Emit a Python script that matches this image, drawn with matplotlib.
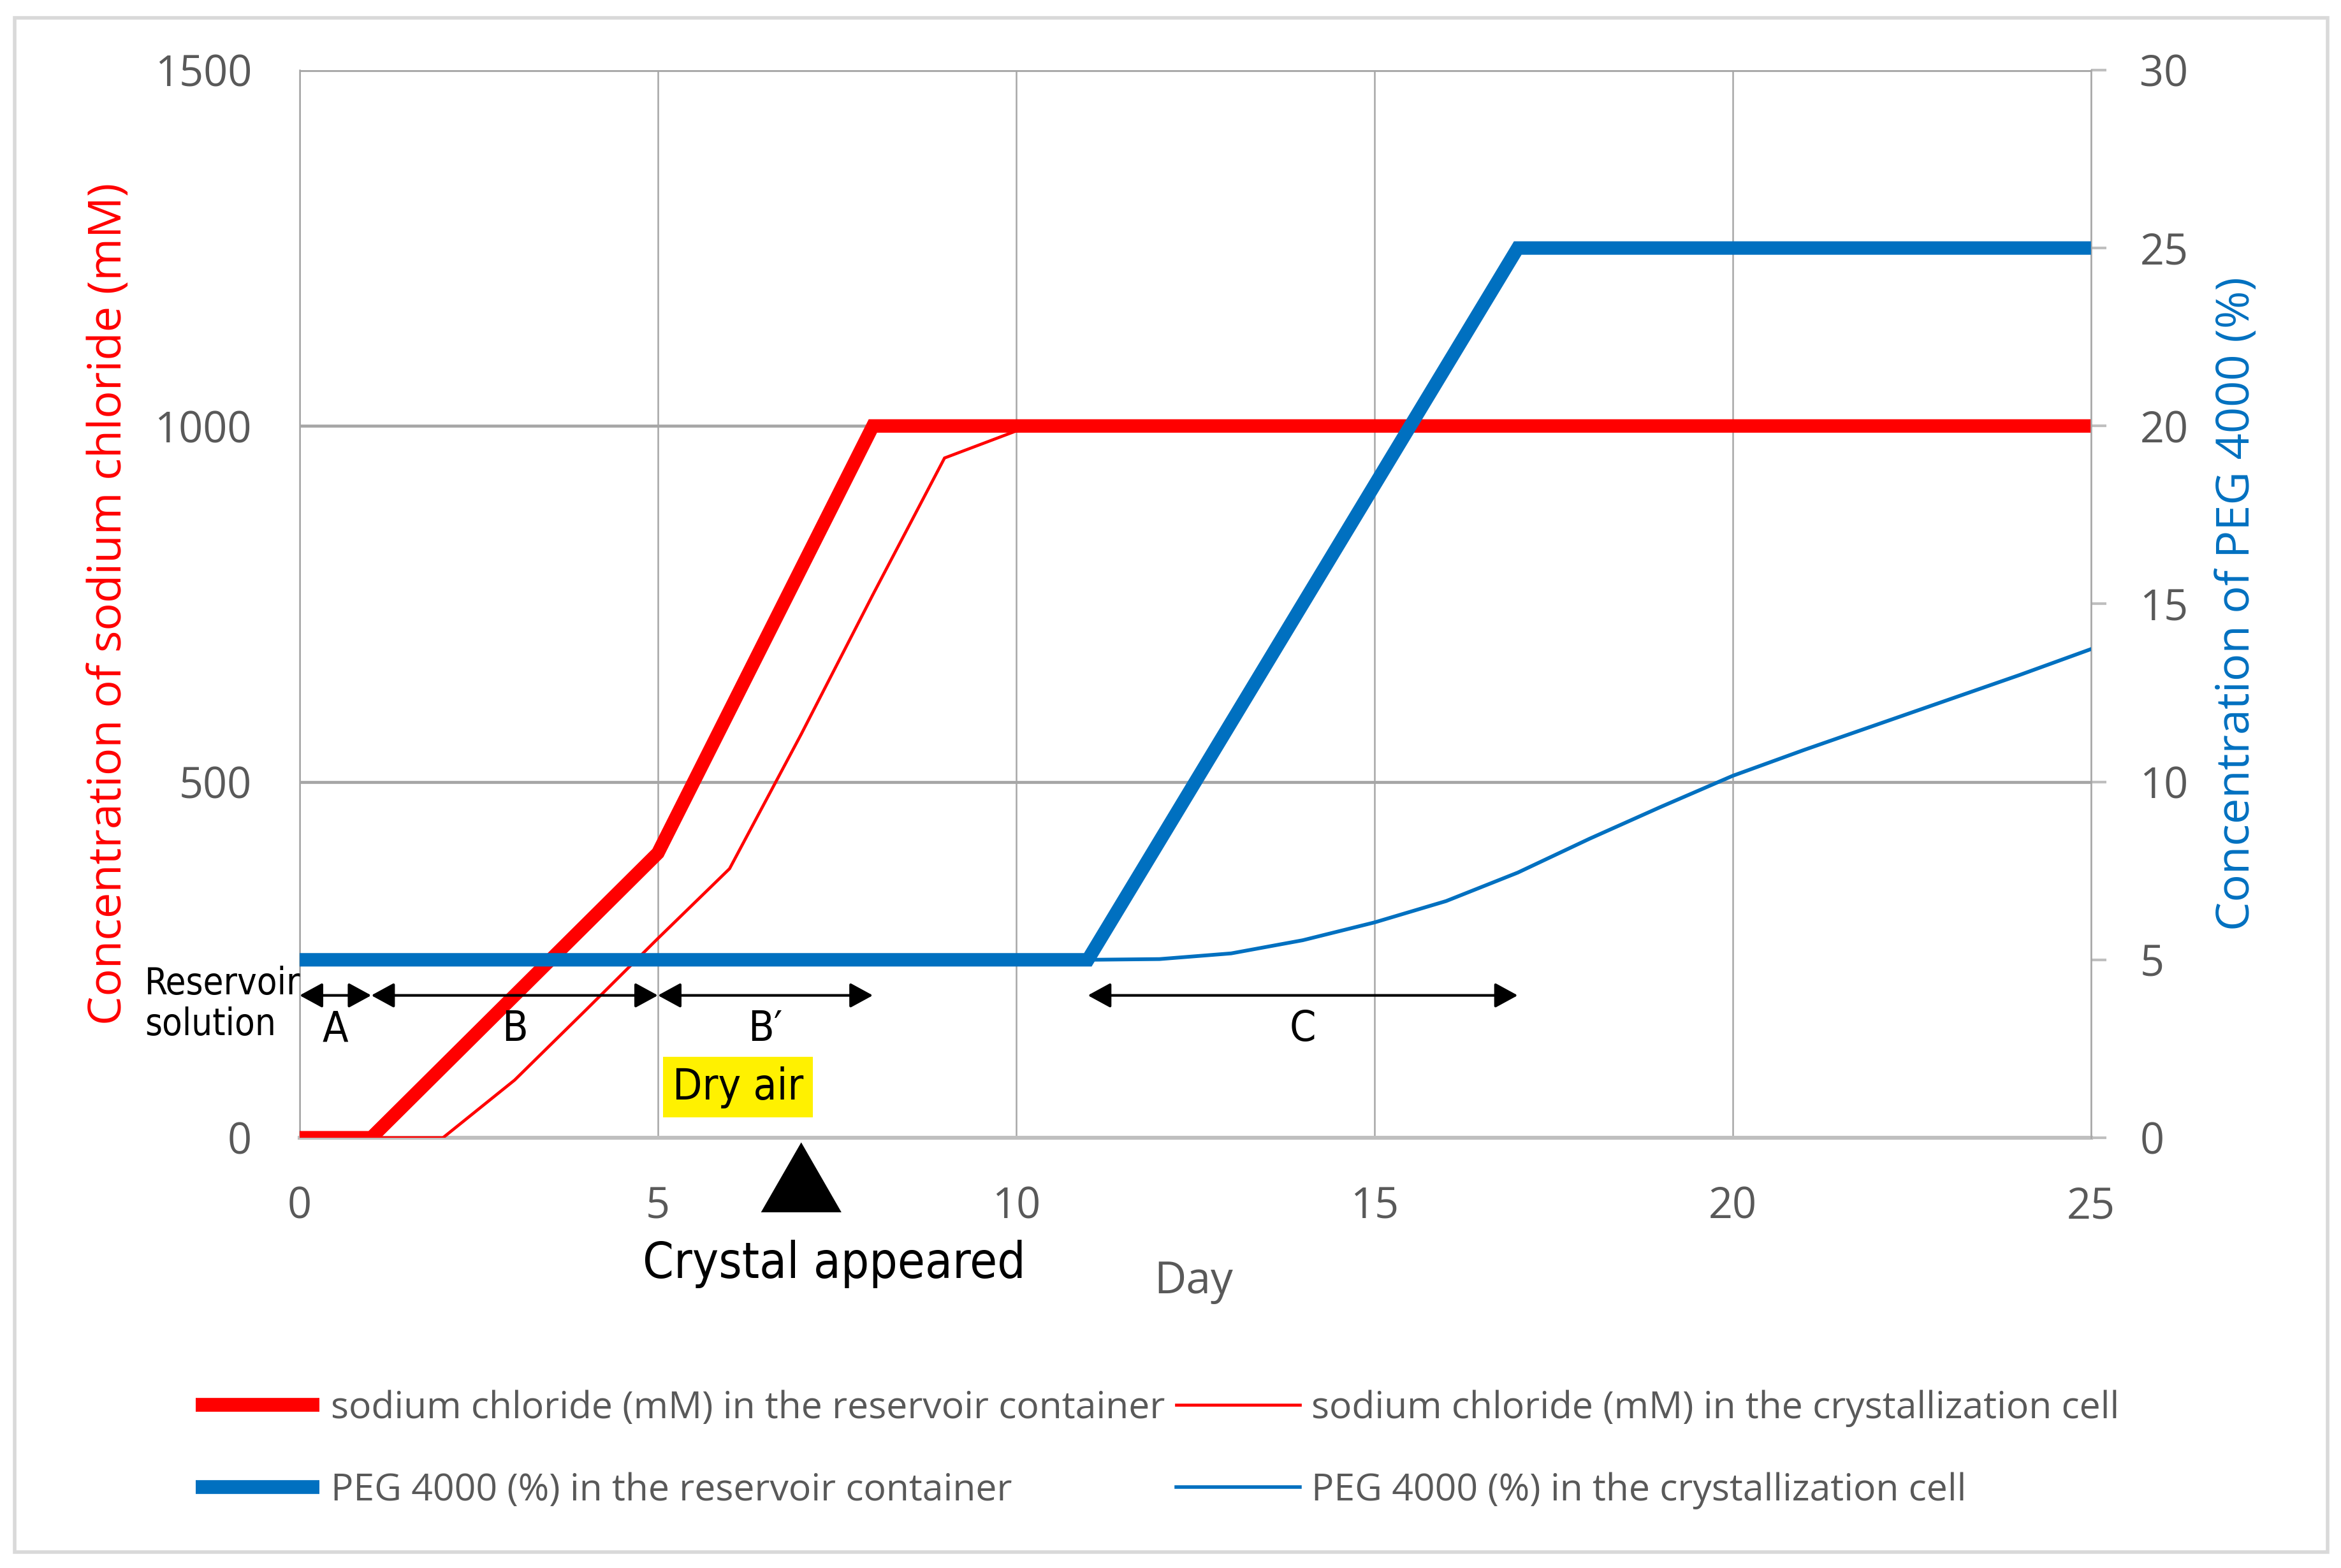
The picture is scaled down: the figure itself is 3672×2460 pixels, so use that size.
import matplotlib
matplotlib.use("Agg")
import matplotlib.pyplot as plt
from matplotlib import font_manager as fm
from matplotlib.patches import Rectangle, Polygon
from matplotlib.lines import Line2D
import matplotlib.transforms as mtransforms

# ---------------- data ----------------
days_nacl_reservoir = [0, 1, 5, 8, 25]
nacl_reservoir = [0, 0, 400, 1000, 1000]

days_cell = list(range(26))
nacl_cell = [0, 0, 0, 81, 180, 280, 378, 567, 763, 955, 993,
             1000, 1000, 1000, 1000, 1000, 1000, 1000, 1000, 1000,
             1000, 1000, 1000, 1000, 1000, 1000]

days_peg_reservoir = [0, 11, 17, 25]
peg_reservoir = [5, 5, 25, 25]

peg_cell = [5, 5, 5, 5, 5, 5, 5, 5, 5, 5, 5, 5,
            5.02, 5.18, 5.55, 6.05, 6.65, 7.45, 8.4, 9.3, 10.17,
            10.9, 11.6, 12.3, 13.0, 13.73]

phase_starts = [0, 1, 5, 11]
phase_ends = [1, 5, 8, 17]
phase_labels = ["A", "B", "B\u2032", "C"]
crystal_day = 7

x_ticks = [0, 5, 10, 15, 20, 25]
left_ticks = [0, 500, 1000, 1500]
right_ticks = [0, 5, 10, 15, 20, 25, 30]

legend_labels = ["sodium chloride (mM) in the reservoir container",
                 "sodium chloride (mM) in the crystallization cell",
                 "PEG 4000 (%) in the reservoir container",
                 "PEG 4000 (%) in the crystallization cell"]

# ---------------- fonts ----------------
def font_file(family, stretch="normal"):
    try:
        return fm.findfont(fm.FontProperties(family=family, stretch=stretch),
                           fallback_to_default=False)
    except Exception:
        return None

MAIN = "Open Sans" if font_file("Open Sans") else "DejaVu Sans"
if font_file("Liberation Sans Narrow"):
    NARROW, NSTRETCH, NSCALE = "Liberation Sans Narrow", "normal", 1.0
else:
    f = font_file("DejaVu Sans", "condensed")
    if f and "ondensed" in f:
        NARROW, NSTRETCH, NSCALE = "DejaVu Sans", "condensed", 0.85
    else:
        NARROW, NSTRETCH, NSCALE = MAIN, "normal", 0.85

plt.rcParams["font.family"] = [MAIN, "DejaVu Sans"]

RED = "#FF0000"
BLUE = "#0070C0"
GRAY_TXT = "#595959"
GRID = "#A6A6A6"

fig = plt.figure(figsize=(18.36, 12.30), dpi=200)
ax = fig.add_axes([0.128, 0.2744, 0.7652, 0.6809])
ax2 = ax.twinx()

# outer border
fig.patches.append(Rectangle((0.0063, 0.0102), 0.988, 0.9784, transform=fig.transFigure,
                             fill=False, ec="#D9D9D9", lw=2.0, zorder=0))

# ---------------- lines ----------------
ax.plot(days_cell, nacl_cell, color=RED, lw=1.7, zorder=3, solid_joinstyle="miter")
ax.plot(days_nacl_reservoir, nacl_reservoir, color=RED, lw=7.6, zorder=4,
        solid_capstyle="butt", solid_joinstyle="miter")
ax2.plot(days_cell, peg_cell, color=BLUE, lw=2.1, zorder=3)
ax2.plot(days_peg_reservoir, peg_reservoir, color=BLUE, lw=7.6, zorder=4,
         solid_capstyle="butt", solid_joinstyle="miter")

# ---------------- axes ----------------
ax.set_xlim(0, 25)
ax.set_ylim(0, 1500)
ax2.set_ylim(0, 30)
ax.set_xticks(x_ticks)
ax.set_yticks(left_ticks)
ax2.set_yticks(right_ticks)

ax.set_axisbelow(True)
ax.yaxis.grid(True, color=GRID, lw=1.7)
ax.xaxis.grid(True, color=GRID, lw=0.9)

ax.tick_params(axis="y", length=0, pad=27, labelsize=24, labelcolor=GRAY_TXT)
ax.tick_params(axis="x", length=0, pad=27, labelsize=24, labelcolor=GRAY_TXT)
ax2.tick_params(axis="y", length=8.6, width=1.5, color="#BFBFBF", pad=19,
                labelsize=24, labelcolor=GRAY_TXT)

for s in ["top", "right"]:
    ax.spines[s].set_visible(False)
ax.spines["left"].set_color(GRID)
ax.spines["left"].set_linewidth(0.9)
ax.spines["bottom"].set_color("#BFBFBF")
ax.spines["bottom"].set_linewidth(2.2)
for s in ["top", "left", "bottom"]:
    ax2.spines[s].set_visible(False)
ax2.spines["right"].set_color(GRID)
ax2.spines["right"].set_linewidth(0.9)

# axis titles
ax.text(-0.1064, 0.5, "Concentration of sodium chloride (mM)", transform=ax.transAxes,
        rotation=90, ha="center", va="center", color=RED, fontsize=26)
ax.text(1.0815, 0.5, "Concentration of PEG 4000 (%)", transform=ax.transAxes,
        rotation=90, ha="center", va="center", color=BLUE, fontsize=26)
ax.text(0.499, -0.1457, "Day", transform=ax.transAxes, ha="center", va="baseline",
        color=GRAY_TXT, fontsize=25)

# ---------------- annotations ----------------
nf = dict(family=[NARROW, "DejaVu Sans"], stretch=NSTRETCH)
arrow_y = 200
label_y = 136
for a, b, lab in zip(phase_starts, phase_ends, phase_labels):
    ax.annotate("", xy=(b, arrow_y), xytext=(a, arrow_y),
                arrowprops=dict(arrowstyle="<|-|>,head_length=0.55,head_width=0.3",
                                mutation_scale=20, color="black", lw=1.5,
                                shrinkA=0, shrinkB=0),
                zorder=6, annotation_clip=False)
    ax.text((a + b) / 2, label_y, lab, ha="center", va="baseline",
            fontsize=28 * NSCALE, color="black", zorder=6, **nf)

ax.text(-0.0865, 0.125, "Reservoir\nsolution", transform=ax.transAxes, ha="left",
        va="center", fontsize=24.5 * NSCALE, color="black", linespacing=1.15, **nf)

ax.text(6.12, 71, "Dry air", ha="center", va="center", fontsize=28.5 * NSCALE, color="black",
        zorder=6, bbox=dict(boxstyle="square,pad=0.22", fc="#FFF100", ec="none"), **nf)

trans = mtransforms.blended_transform_factory(ax.transData, ax.transAxes)
tri = Polygon([[crystal_day - 0.54, -0.069], [crystal_day + 0.54, -0.069],
               [crystal_day, -0.006]], closed=True, transform=trans,
              fc="black", ec="black", clip_on=False, zorder=6)
ax.add_patch(tri)
ax.text(0.2982, -0.1313, "Crystal appeared", transform=ax.transAxes, ha="center",
        va="baseline", fontsize=33 * NSCALE, color="black", **nf)

# ---------------- legend ----------------
handles = [Line2D([], [], color=RED, lw=7.8, solid_capstyle="butt"),
           Line2D([], [], color=RED, lw=1.7),
           Line2D([], [], color=BLUE, lw=7.8, solid_capstyle="butt"),
           Line2D([], [], color=BLUE, lw=2.0)]
order = [0, 2, 1, 3]
leg = fig.legend([handles[i] for i in order], [legend_labels[i] for i in order],
                 loc="center left", bbox_to_anchor=(0.0836, 0.0755), ncol=2,
                 frameon=False, fontsize=21.2, borderpad=0, borderaxespad=0,
                 handlelength=3.3, handletextpad=0.3, columnspacing=0.3,
                 labelspacing=1.2, labelcolor=GRAY_TXT)

fig.savefig("out.png", dpi=200)
